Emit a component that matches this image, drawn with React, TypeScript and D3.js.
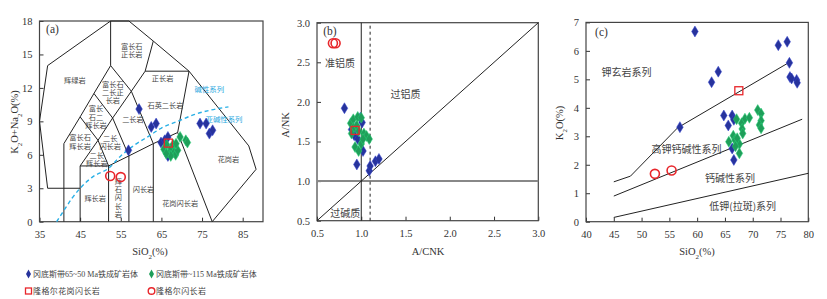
import React, { useEffect, useRef } from 'react';
import * as d3 from 'd3';

// ---- (a) SiO2 vs K2O+Na2O (TAS, plutonic) ----
const tasLines = [
  [[45, 3], [37, 3], [35, 9], [37, 14], [52.5, 18], [57, 18], [63, 16.2], [71.8, 13.5], [86.5, 6.8], [88.3, 4.7], [77.5, 0]],
  [[41, 0], [41, 7], [45, 9.4], [48.4, 11.5], [52.5, 14], [52.5, 18]],
  [[45, 0], [45, 5], [52, 5], [57, 5.9], [63, 7], [69, 8], [77.5, 0]],
  [[45, 5], [49.4, 7.3], [45, 9.4]],
  [[52, 0], [52, 5], [49.4, 7.3], [53, 9.3], [48.4, 11.5]],
  [[57, 0], [57, 5.9], [53, 9.3], [57.6, 11.7], [52.5, 14]],
  [[63, 0], [63, 7], [57.6, 11.7], [61, 13.5], [63, 16.2]],
  [[69, 8], [71.8, 13.5]],
  [[61, 13.5], [71.8, 13.5]],
];
const alkCurve = [
  [39.2, 0], [41, 1.0], [43, 2.1], [45, 3.0], [48, 4.0], [52, 4.8], [55, 5.9], [58.5, 6.9],
  [62, 7.7], [65, 8.4], [69, 9.0], [73, 9.6], [77, 10.0], [81.5, 10.3],
];
// "|" separates stacked lines; x, y = centre of the block
const tasLabels = [
  ['辉绿岩', 43.7, 12.66], ['富长石|正长岩', 57.7, 15.33], ['正长岩', 65.3, 12.87],
  ['富长石|二长正|长岩', 53.05, 11.6], ['富长|石二|辉长岩', 48.9, 9.38],
  ['二长岩', 58, 9.13], ['石英二长岩', 66, 10.4],
  ['富长石|辉长岩', 45, 7.15], ['二长|闪长岩', 52.4, 7.12],
  ['二长|辉长岩', 49.1, 5.58], ['辉长岩', 48.7, 2.1],
  ['闪长岩', 60.6, 2.85], ['花岗闪长岩', 69.6, 1.59], ['花岗岩', 81.5, 5.6],
];
const tasVertical = [['辉石闪长岩', 54.4, 2.12]];
const tasCyanLabels = [['碱性系列', 76.8, 11.82], ['亚碱性系列', 80.4, 9.19]];
const tasBlue = [
  [59.5, 10.1], [62.5, 8.5], [63.7, 8.8], [64.9, 7.1], [65.8, 7.3], [66.6, 7.6], [56.9, 6.4],
  [66.6, 5.9], [74.5, 8.8], [76.0, 8.8], [76.8, 7.9], [77.6, 8.2],
];
const tasGreen = [
  [65.6, 6.5], [66.3, 6.9], [66.9, 6.2], [67.4, 6.6], [67.9, 6.9], [68.1, 6.2], [68.5, 6.0], [67.3, 5.9],
  [69.0, 6.4], [69.6, 7.6], [71.0, 7.3], [71.4, 7.1], [68.6, 7.0], [66.2, 6.1],
];
const tasSquare = [[66.7, 7.05]];
const tasCircle = [[52.4, 4.1], [55.0, 4.0]];

// ---- (b) A/CNK vs A/NK ----
const acnkLabels = [['准铝质', 0.76, 2.49], ['过铝质', 1.5, 2.09], ['过碱质', 0.82, 0.59]];
const acnkBlue = [
  [0.81, 1.92], [0.95, 1.21], [1.02, 1.38], [1.09, 1.13], [1.10, 1.19], [1.16, 1.25], [1.20, 1.28],
  [0.89, 1.65], [0.92, 1.58], [0.96, 1.53], [1.01, 1.74], [0.99, 1.80], [0.94, 1.68],
];
const acnkGreen = [
  [0.88, 1.73], [0.91, 1.78], [0.96, 1.81], [1.0, 1.80], [0.91, 1.67], [0.95, 1.70], [1.03, 1.60],
  [1.06, 1.57], [1.09, 1.53], [0.93, 1.43], [0.97, 1.38], [1.0, 1.47], [0.89, 1.60], [0.97, 1.63], [1.02, 1.53],
];
const acnkSquare = [[0.93, 1.64]];
const acnkCircle = [[0.68, 2.74], [0.71, 2.74]];

// ---- (c) SiO2 vs K2O ----
const kLines = [
  [[45, 1.4], [48, 1.6], [56.5, 3.3], [76.6, 5.6]],
  [[45, 0.9], [78.9, 3.6]],
  [[45, 0.15], [80, 1.7]],
];
const kLabels = [['钾玄岩系列', 47.3, 5.25], ['高钾钙碱性系列', 58.1, 2.52], ['钙碱性系列', 65.9, 1.53], ['低钾(拉斑)系列', 68.2, 0.53]];
const kBlue = [
  [59.6, 6.68], [56.9, 3.32], [62.6, 4.9], [63.8, 5.27], [74.6, 6.2], [76.2, 6.32], [76.6, 5.58],
  [76.7, 5.08], [77.0, 5.03], [77.9, 4.98], [78.0, 4.88], [64.8, 3.73], [66.3, 3.73], [66.6, 3.58],
  [65.6, 3.38], [66.3, 2.57], [66.6, 2.17],
];
const kGreen = [
  [67.1, 3.6], [68.0, 3.46], [68.6, 3.62], [69.4, 3.65], [70.9, 3.92], [71.5, 3.8], [71.5, 3.55],
  [71.2, 3.4], [71.5, 3.28], [68.1, 3.26], [68.2, 3.1], [66.5, 3.02], [66.8, 2.87], [65.7, 2.81],
  [67.6, 2.73], [67.6, 2.4], [67.2, 2.93], [66.9, 2.65],
];
const kSquare = [[67.5, 4.6]];
const kCircle = [[52.4, 1.68], [55.4, 1.8]];

const legendItems = [
  ['diamond', '#27339c', '冈底斯带65~50 Ma铁成矿岩体'],
  ['diamond', '#1f9e5a', '冈底斯带~115 Ma铁成矿岩体'],
  ['square', '#e8262b', '隆格尔花岗闪长岩'],
  ['circle', '#e8262b', '隆格尔闪长岩'],
];

const SERIF = "'Liberation Serif','Noto Sans CJK SC',serif";
const CJK = "'Noto Sans CJK SC','Liberation Serif',sans-serif";
const BLUE = '#27339c';
const GREEN = '#1f9e5a';
const RED = '#e8262b';
const INK = '#333';

const App = () => {
  const ref = useRef(null);

  useEffect(() => {
    const svg = d3.select(ref.current);
    svg.selectAll('*').remove();

    const line = (x, y) => d3.line().x(d => x(d[0])).y(d => y(d[1]));

    // axes + frame for one panel
    const frame = (x, y, xt, yt, fmt) => {
      const [x0, x1] = x.range();
      const [y0, y1] = y.range();
      svg.append('g')
        .attr('transform', `translate(0,${y0})`)
        .call(d3.axisBottom(x).tickValues(xt).tickFormat(fmt).tickSizeInner(-4).tickSizeOuter(0).tickPadding(9))
        .call(g => g.select('.domain').remove());
      svg.append('g')
        .attr('transform', `translate(${x0},0)`)
        .call(d3.axisLeft(y).tickValues(yt).tickFormat(fmt).tickSizeInner(-4).tickSizeOuter(0).tickPadding(7))
        .call(g => g.select('.domain').remove());
      svg.selectAll('.tick text').attr('font-family', SERIF).attr('font-size', 10.5).attr('fill', INK);
      svg.selectAll('.tick line').attr('stroke', INK);
      svg.append('rect')
        .attr('x', x0).attr('y', y1).attr('width', x1 - x0).attr('height', y0 - y1)
        .attr('fill', 'none').attr('stroke', '#444').attr('stroke-width', 1.2);
    };

    const subText = (px, py, parts, rotate) => {
      const t = svg.append('text')
        .attr('font-family', SERIF).attr('font-size', 10.5).attr('fill', INK)
        .attr('text-anchor', 'middle')
        .attr('transform', `translate(${px},${py})${rotate ? ' rotate(-90)' : ''}`);
      parts.forEach(([s, sub]) => {
        const sp = t.append('tspan').text(s);
        if (sub) sp.attr('font-size', 7).attr('baseline-shift', 'sub');
      });
    };

    // stacked labels: one <text> per label, lines as tspans
    const labels = (x, y, data, size, color, lh) => {
      svg.append('g').selectAll('text').data(data).join('text')
        .attr('text-anchor', 'middle')
        .attr('font-family', CJK).attr('font-size', size).attr('fill', color)
        .each(function (d) {
          const rows = d[0].split('|');
          const t = d3.select(this);
          const top = y(d[2]) - ((rows.length - 1) * lh) / 2;
          rows.forEach((r, i) => {
            t.append('tspan').attr('x', x(d[1])).attr('y', top + i * lh)
              .attr('dy', '0.35em').text(r);
          });
        });
    };

    const diamonds = (x, y, data, color) => {
      svg.append('g').selectAll('path').data(data).join('path')
        .attr('d', 'M0,-5.5L3.3,0L0,5.5L-3.3,0Z')
        .attr('transform', d => `translate(${x(d[0])},${y(d[1])})`)
        .attr('fill', color).attr('stroke', d3.color(color).brighter(0.8)).attr('stroke-width', 0.5);
    };
    const squares = (x, y, data) => {
      svg.append('g').selectAll('rect').data(data).join('rect')
        .attr('x', d => x(d[0]) - 4).attr('y', d => y(d[1]) - 4).attr('width', 8).attr('height', 8)
        .attr('fill', 'none').attr('stroke', RED).attr('stroke-width', 1.3);
    };
    const circles = (x, y, data) => {
      svg.append('g').selectAll('circle').data(data).join('circle')
        .attr('cx', d => x(d[0])).attr('cy', d => y(d[1])).attr('r', 4.5)
        .attr('fill', 'none').attr('stroke', RED).attr('stroke-width', 1.6);
    };
    const tag = (px, py, s) => svg.append('text').attr('x', px).attr('y', py)
      .attr('text-anchor', 'middle').attr('dominant-baseline', 'central')
      .attr('font-family', SERIF).attr('font-size', 11.5).attr('fill', INK).text(s);

    // ---------- (a) ----------
    const ax = d3.scaleLinear().domain([35, 90]).range([39.5, 263]);
    const ay = d3.scaleLinear().domain([0, 18]).range([221.7, 21]);
    frame(ax, ay, [35, 45, 55, 65, 75, 85], [0, 3, 6, 9, 12, 15, 18], d3.format('d'));
    const ga = svg.append('g');
    tasLines.forEach(l => ga.append('path').attr('d', line(ax, ay)(l))
      .attr('fill', 'none').attr('stroke', '#222').attr('stroke-width', 1));
    ga.append('path').attr('d', line(ax, ay).curve(d3.curveMonotoneX)(alkCurve))
      .attr('fill', 'none').attr('stroke', '#2ab0e6').attr('stroke-width', 1.4).attr('stroke-dasharray', '4,3');
    labels(ax, ay, tasLabels, 7.2, '#444', 8.3);
    svg.append('g').selectAll('text').data(tasVertical).join('text')
      .attr('x', d => ax(d[1])).attr('y', d => ay(d[2]))
      .attr('writing-mode', 'tb').attr('text-anchor', 'middle')
      .attr('letter-spacing', 1.1)
      .attr('font-family', CJK).attr('font-size', 7.2).attr('fill', '#444')
      .text(d => d[0]);
    labels(ax, ay, tasCyanLabels, 7.4, '#2aa8e0', 8.3);
    diamonds(ax, ay, tasBlue, BLUE);
    diamonds(ax, ay, tasGreen, GREEN);
    squares(ax, ay, tasSquare);
    circles(ax, ay, tasCircle);
    tag(52.5, 28.5, '(a)');
    subText(150, 255, [['SiO'], ['2', 1], ['(%)']]);
    subText(18, 122, [['K'], ['2', 1], ['O+Na'], ['2', 1], ['O(%)']], true);

    // ---------- (b) ----------
    const bx = d3.scaleLinear().domain([0.5, 3]).range([317, 538.3]);
    const by = d3.scaleLinear().domain([0.5, 3]).range([220.7, 22.7]);
    const half = [0.5, 1, 1.5, 2, 2.5, 3];
    frame(bx, by, half, half, d3.format('.1f'));
    svg.append('line').attr('x1', bx(0.5)).attr('x2', bx(3)).attr('y1', by(1)).attr('y2', by(1))
      .attr('stroke', '#888').attr('stroke-width', 2);
    svg.append('line').attr('x1', bx(1)).attr('x2', bx(1)).attr('y1', by(0.5)).attr('y2', by(3))
      .attr('stroke', '#222').attr('stroke-width', 1);
    svg.append('line').attr('x1', bx(1.1)).attr('x2', bx(1.1)).attr('y1', by(0.5)).attr('y2', by(3))
      .attr('stroke', '#222').attr('stroke-width', 1).attr('stroke-dasharray', '3,3');
    svg.append('line').attr('x1', bx(0.5)).attr('x2', bx(3)).attr('y1', by(0.5)).attr('y2', by(3))
      .attr('stroke', '#222').attr('stroke-width', 1);
    labels(bx, by, acnkLabels, 10, '#444', 12);
    diamonds(bx, by, acnkBlue, BLUE);
    diamonds(bx, by, acnkGreen, GREEN);
    squares(bx, by, acnkSquare);
    circles(bx, by, acnkCircle);
    tag(330, 30.5, '(b)');
    subText(428, 255, [['A/CNK']]);
    subText(289, 125, [['A/NK']], true);

    // ---------- (c) ----------
    const cx = d3.scaleLinear().domain([40, 80]).range([586, 808.3]);
    const cy = d3.scaleLinear().domain([0, 7]).range([221.7, 22.4]);
    frame(cx, cy, d3.range(40, 81, 5), d3.range(0, 8), d3.format('d'));
    kLines.forEach(l => svg.append('path').attr('d', line(cx, cy)(l))
      .attr('fill', 'none').attr('stroke', '#222').attr('stroke-width', 1));
    labels(cx, cy, kLabels, 10, '#444', 12);
    diamonds(cx, cy, kBlue, BLUE);
    diamonds(cx, cy, kGreen, GREEN);
    squares(cx, cy, kSquare);
    circles(cx, cy, kCircle);
    tag(601.5, 31.5, '(c)');
    subText(697, 255, [['SiO'], ['2', 1], ['(%)']]);
    subText(563, 123, [['K'], ['2', 1], ['O(%)']], true);

    // ---------- legend ----------
    const lg = svg.append('g');
    legendItems.forEach(([shape, color, text], i) => {
      const lx = i % 2 === 0 ? 28.5 : 151.5;
      const ly = i < 2 ? 274 : 291;
      if (shape === 'diamond') {
        lg.append('path').attr('d', 'M0,-4.5L2.5,0L0,4.5L-2.5,0Z')
          .attr('transform', `translate(${lx},${ly})`).attr('fill', color);
      } else if (shape === 'square') {
        lg.append('rect').attr('x', lx - 3).attr('y', ly - 3).attr('width', 6).attr('height', 6)
          .attr('fill', 'none').attr('stroke', color).attr('stroke-width', 1.3);
      } else {
        lg.append('circle').attr('cx', lx).attr('cy', ly).attr('r', 3.3)
          .attr('fill', 'none').attr('stroke', color).attr('stroke-width', 1.4);
      }
      lg.append('text').attr('x', lx + 4.5).attr('y', ly).attr('dominant-baseline', 'central')
        .attr('font-family', SERIF).attr('font-size', 8).attr('fill', '#444')
        .attr('letter-spacing', i < 2 ? 0 : 0.4)
        .text(text);
    });
  }, []);

  return (
    <svg ref={ref} width={827} height={299}
      style={{ position: 'absolute', left: 0, top: 0, background: '#fff' }} />
  );
};

export default App;
